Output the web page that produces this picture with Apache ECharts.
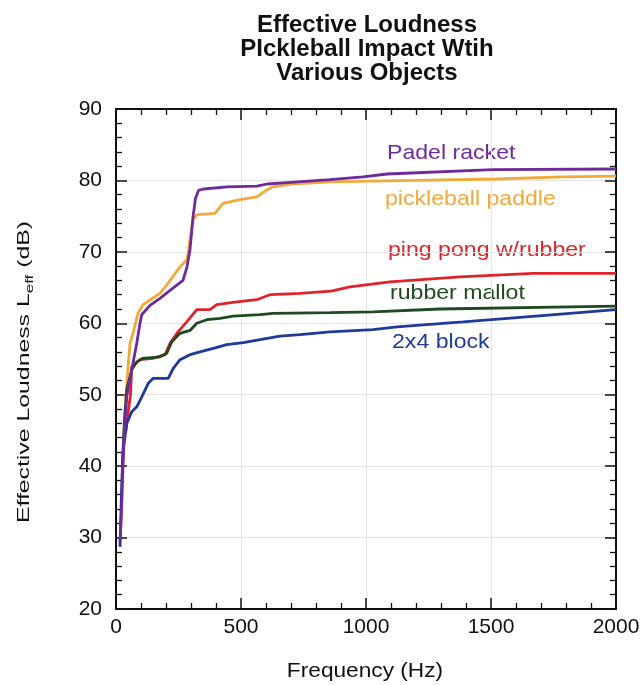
<!DOCTYPE html>
<html><head><meta charset="utf-8">
<script src="https://cdn.jsdelivr.net/npm/echarts@6/dist/echarts.min.js"></script>
<style>html,body{margin:0;padding:0;background:#fff}#c{width:643px;height:685px}</style>
</head><body><div id="c"></div>
<script>
const padelRacket = [[16,29.5],[20,32],[23,34.8],[32,44.1],[43,49.7],[63,53.5],[83,57.2],[96,60],[103,61.2],[136,62.5],[176,63.5],[216,64.6],[268,66.0],[284,67.9],[296,70.3],[308,74.9],[318,77.5],[330,78.6],[350,78.8],[444,79.1],[564,79.2],[604,79.5],[684,79.7],[856,80.1],[988,80.5],[1084,80.9],[1508,81.5],[2000,81.6]];
const pickleballPaddle = [[30,44],[43,51.6],[56,57.2],[68,58.6],[88,61.4],[108,62.6],[176,64.2],[208,65.6],[256,67.9],[284,68.9],[296,71.7],[308,74.5],[324,75.2],[396,75.4],[428,76.8],[496,77.3],[564,77.7],[604,78.7],[628,79.1],[700,79.5],[856,79.8],[1200,80.0],[1524,80.2],[1788,80.5],[2000,80.6]];
const pingPong = [[40,45],[50,47.9],[58,50],[63,53.9],[83,54.5],[96,54.9],[148,55.1],[196,55.6],[216,57.2],[248,58.8],[283,60.2],[323,61.9],[376,61.9],[403,62.6],[483,63.0],[563,63.3],[616,64.0],[736,64.2],[860,64.5],[936,65.1],[1096,65.8],[1376,66.5],[1668,67.0],[2000,67.0]];
const rubberMallot = [[25,40],[35,47],[43,50.7],[63,53.5],[83,54.6],[108,55.1],[176,55.3],[203,55.8],[223,57.4],[256,58.6],[296,59.0],[323,60.0],[363,60.5],[416,60.7],[469,61.0],[576,61.2],[628,61.4],[856,61.5],[1028,61.6],[1296,62.0],[1816,62.3],[2000,62.4]];
const block2x4 = [[16,28.7],[23,37.6],[29,42.3],[43,46.0],[63,47.6],[83,48.3],[103,49.7],[129,51.6],[149,52.3],[209,52.3],[229,53.7],[256,54.9],[296,55.6],[336,56.0],[389,56.5],[443,57.0],[509,57.3],[576,57.7],[656,58.2],[736,58.4],[856,58.8],[1028,59.1],[1124,59.5],[1388,60.2],[1604,60.8],[1816,61.4],[2000,61.9]];
const seriesNames = ['pickleball paddle','Padel racket','ping pong w/rubber','rubber mallot','2x4 block'];
const titleLines = ['Effective Loudness','PIckleball Impact Wtih','Various Objects'];
const xAxisTitle = 'Frequency (Hz)';
const yAxisTitle = 'Effective Loudness L{sub|eff} (dB)';

const colors = ['#f2a93b','#6e2a9c','#e0232b','#1f4a1f','#1f3a9a'];
const datasets = [pickleballPaddle, padelRacket, pingPong, rubberMallot, block2x4];
const zOrder = [3,7,4,5,6];
const FONT = '"Liberation Sans", Arial, sans-serif';

const chart = echarts.init(document.getElementById('c'));
const axisCommon = {
  axisLine:{show:true,onZero:false,lineStyle:{color:'#111',width:2}},
  axisTick:{show:true,inside:true,length:11,lineStyle:{color:'#111',width:1.5}},
  minorTick:{show:true,splitNumber:5,length:6,lineStyle:{color:'#111',width:1.3}}
};
const labelPos = [
  {t:'Padel racket', x:387, y:153},
  {t:'pickleball paddle', x:385, y:199},
  {t:'ping pong w/rubber', x:388, y:250},
  {t:'rubber mallot', x:390, y:293},
  {t:'2x4 block', x:392, y:342}
];
const labelColor = {'Padel racket':colors[1],'pickleball paddle':colors[0],'ping pong w/rubber':colors[2],'rubber mallot':colors[3],'2x4 block':colors[4]};

chart.setOption({
  animation:false,
  backgroundColor:'#fff',
  grid:{left:116,top:109,width:500,height:500,containLabel:false},
  xAxis:[
    Object.assign({type:'value',min:0,max:2000,interval:500,position:'bottom',
      axisLabel:{fontFamily:FONT,fontSize:21,color:'#111',margin:8,formatter:v=>String(v)},
      splitLine:{show:true,lineStyle:{color:'#e4e4e4',width:1}}},axisCommon),
    Object.assign({type:'value',min:0,max:2000,interval:500,position:'top',
      axisLabel:{show:false},splitLine:{show:false}},axisCommon)
  ],
  yAxis:[
    Object.assign({type:'value',min:20,max:90,interval:10,position:'left',
      axisLabel:{fontFamily:FONT,fontSize:21,color:'#111',margin:14},
      splitLine:{show:true,lineStyle:{color:'#e4e4e4',width:1}}},axisCommon),
    Object.assign({type:'value',min:20,max:90,interval:10,position:'right',
      axisLabel:{show:false},splitLine:{show:false}},axisCommon)
  ],
  series: datasets.map((d,i)=>({
    name:seriesNames[i],type:'line',data:d,showSymbol:false,symbol:'none',
    lineStyle:{color:colors[i],width:2.8},z:zOrder[i]
  })),
  graphic: titleLines.map((t,i)=>({type:'text',x:367,y:25+i*24,
      style:{text:t,font:'bold 24px '+FONT,fill:'#111',textAlign:'center',textVerticalAlign:'middle'}}))
   .concat(labelPos.map(l=>({type:'text',x:l.x,y:l.y,scaleX:1.1,
      style:{text:l.t,font:'21px '+FONT,fill:labelColor[l.t],textVerticalAlign:'middle'}})))
   .concat([
     {type:'text',x:365,y:671,scaleX:1.08,
      style:{text:xAxisTitle,font:'21px '+FONT,fill:'#111',textAlign:'center',textVerticalAlign:'middle'}},
     {type:'text',x:25,y:372,rotation:Math.PI/2,scaleX:1.55,
      style:{text:yAxisTitle,font:'16px '+FONT,fill:'#111',textAlign:'center',textVerticalAlign:'middle',
        rich:{sub:{font:'11px '+FONT,fill:'#111',verticalAlign:'bottom',padding:[9,0,0,0]}}}}
   ])
});
</script></body></html>
